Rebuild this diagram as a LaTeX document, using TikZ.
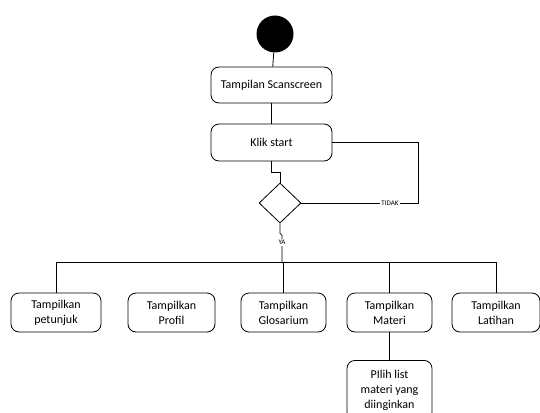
\documentclass[tikz,border=0pt]{standalone}
\usepackage{fontspec}
\setmainfont{Carlito}
\usetikzlibrary{shapes.geometric}

\tikzset{
  activity/.style={draw, rounded corners=8pt, line width=0.8pt, align=center,
    font=\fontsize{12}{15}\selectfont, inner sep=2pt},
  wide/.style={activity, minimum width=121pt, minimum height=36pt},
  menu/.style={activity, minimum width=87pt, minimum height=39pt},
  guard/.style={font=\fontsize{7}{8}\selectfont, fill=white, inner sep=1pt},
  flow/.style={line width=0.8pt}
}

\begin{document}
\begin{tikzpicture}[x=1pt,y=-1pt]
        \useasboundingbox (0,0) rectangle (540,412);

        % start and first steps
        \node[circle, fill=black, minimum size=37pt, inner sep=0pt] (start) at (275,34) {};
        \node[wide] (scan) at (271.5,85) {Tampilan Scanscreen};
        \node[wide, minimum height=37pt] (klik) at (271.5,142.5) {Klik start};
        \node[diamond, draw, line width=0.8pt, minimum width=42pt, minimum height=40pt, inner sep=0pt] (cek) at (280,203) {};

        % menu row
        \node[menu, minimum width=90pt] (petunjuk) at (56,312.5) {Tampilkan\\petunjuk};
        \node[menu] (profil) at (171.5,312.5) {Tampilkan\\Profil};
        \node[menu, minimum width=85pt] (glosarium) at (283.5,312.5) {Tampilkan\\Glosarium};
        \node[menu, minimum width=85pt] (materi) at (389.5,312.5) {Tampilkan\\Materi};
        \node[menu, minimum width=88pt] (latihan) at (496,312.5) {Tampilkan\\Latihan};
        \node[activity, minimum width=85pt, minimum height=60pt, anchor=north] (pilih) at (389.5,360) {PIlih list\\materi yang\\diinginkan};

        \coordinate (balik) at (418,203);
        \coordinate (ya) at (282,263);

        % connectors
        \draw[flow] (start) -- (scan);
        \draw[flow] (scan) -- (klik);
        \draw[flow] (klik.south) -- ++(0,11) -| (cek.north);
        \draw[flow] (cek.east) -- node[guard, pos=0.76] {TIDAK} (balik) |- (klik.east);
        \draw[flow] (cek.south) -- ++(0,10) -- ++(2,2) -- node[guard, pos=0.25] {YA} (ya);
        \draw[flow] (petunjuk.north) -- ++(0,-30) -| (latihan.north);
        \draw[flow] (glosarium.north) -- (glosarium.north |- ya);
        \draw[flow] (materi.north) -- (materi.north |- ya);
        \draw[flow] (materi) -- (pilih);
\end{tikzpicture}
\end{document}
